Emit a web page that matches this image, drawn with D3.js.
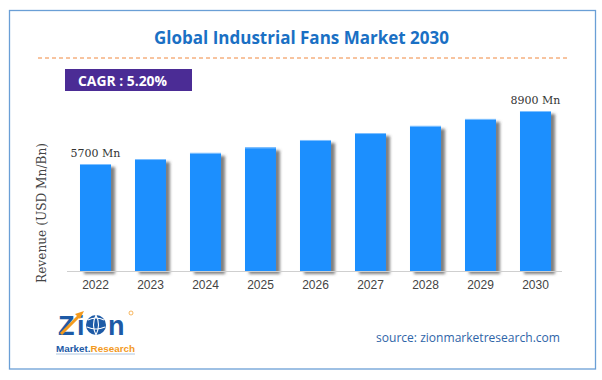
<!DOCTYPE html>
<html>
<head>
<meta charset="utf-8">
<script src="https://cdn.jsdelivr.net/npm/d3@7"></script>
<style>
html,body{margin:0;padding:0;background:#fff;}
svg{display:block;}
</style>
</head>
<body>
<svg id="chart" width="602" height="380"></svg>
<script>
const years = ["2022","2023","2024","2025","2026","2027","2028","2029","2030"];
const revenue = [5700, 6000, 6370, 6700, 7150, 7570, 8000, 8420, 8900];
const valueLabels = {"2022": "5700 Mn", "2030": "8900 Mn"};
const titleText = "Global Industrial Fans Market 2030";
const cagrText = "CAGR : 5.20%";
const yTitle = "Revenue (USD Mn/Bn)";
const sourceText = "source: zionmarketresearch.com";

const svg = d3.select("#chart");

// shadow filter
const defs = svg.append("defs");
const f = defs.append("filter").attr("id","shadow").attr("x","-20%").attr("y","-10%").attr("width","160%").attr("height","130%");
f.append("feDropShadow").attr("dx",4).attr("dy",3).attr("stdDeviation",1.6)
  .attr("flood-color","#555").attr("flood-opacity",0.75);

// frame
svg.append("rect").attr("x",9.5).attr("y",10.5).attr("width",586).attr("height",358.5)
  .attr("fill","#fff").attr("stroke","#6a9fd6").attr("stroke-width",1.3);

// title
svg.append("text").attr("x",301.5).attr("y",44).attr("text-anchor","middle")
  .attr("font-family","'Open Sans', 'Noto Sans', sans-serif").attr("font-weight","bold")
  .attr("font-size",18).attr("fill","#1a70c4")
  .attr("textLength",295).attr("lengthAdjust","spacingAndGlyphs")
  .text(titleText);

// dashed line
svg.append("line").attr("x1",38).attr("x2",570).attr("y1",58).attr("y2",58)
  .attr("stroke","#f0883e").attr("stroke-width",1).attr("stroke-dasharray","4,3");

// CAGR box
svg.append("rect").attr("x",65).attr("y",69).attr("width",127).attr("height",22).attr("fill","#4b2c95");
svg.append("text").attr("x",78).attr("y",85.5)
  .attr("font-family","'Open Sans', 'Noto Sans', sans-serif").attr("font-weight","bold")
  .attr("font-size",14).attr("fill","#fff")
  .attr("textLength",89).attr("lengthAdjust","spacingAndGlyphs")
  .text(cagrText);

// scales
const x = d3.scaleBand().domain(years).range([68,563]).paddingInner(0.436).paddingOuter(0.218);
const y = d3.scaleLinear().domain([-760, 8900]).range([271, 111]);

// bars
const g = svg.append("g");
g.selectAll("rect.bar").data(years).join("rect").attr("class","bar")
  .attr("x", d => x(d)).attr("width", x.bandwidth())
  .attr("y", (d,i) => y(revenue[i])).attr("height", (d,i) => 271 - y(revenue[i]))
  .attr("fill","#1e8ffe").attr("filter","url(#shadow)");
g.selectAll("rect.topline").data(years).join("rect").attr("class","topline")
  .attr("x", d => x(d)).attr("width", x.bandwidth())
  .attr("y", (d,i) => y(revenue[i])).attr("height", 1)
  .attr("fill","#7fc0ff");

// x axis
const xAxis = svg.append("g").attr("transform","translate(0,271)")
  .call(d3.axisBottom(x).tickSize(0).tickPadding(9));
xAxis.select(".domain").attr("stroke","#cfcfcf").attr("stroke-width",1).attr("d","M67,0.5H562");
xAxis.selectAll("text").attr("font-family","'Liberation Sans', Arial, sans-serif")
  .attr("font-size",12).attr("fill","#444");

// value labels
svg.selectAll("text.vl").data(years.filter(d => valueLabels[d])).join("text").attr("class","vl")
  .attr("x", d => x(d) + x.bandwidth()/2)
  .attr("y", d => y(revenue[years.indexOf(d)]) - 7)
  .attr("text-anchor","middle")
  .attr("font-family","'DejaVu Serif', serif").attr("font-size",11).attr("fill","#333")
  .text(d => valueLabels[d]);

// y title
svg.append("text").attr("transform","translate(46,213) rotate(-90)")
  .attr("text-anchor","middle")
  .attr("font-family","'DejaVu Serif', serif").attr("font-size",12).attr("fill","#444")
  .attr("textLength",140).attr("lengthAdjust","spacingAndGlyphs")
  .text(yTitle);

// source
svg.append("text").attr("x",376).attr("y",342)
  .attr("font-family","'Open Sans', 'Noto Sans', sans-serif").attr("font-size",13).attr("fill","#2f65a8")
  .attr("textLength",184).attr("lengthAdjust","spacingAndGlyphs")
  .text(sourceText);

// logo
const logo = svg.append("g");
const big = (t, xx) => logo.append("text").attr("x",xx).attr("y",335)
  .attr("font-family","'Liberation Sans', Arial, sans-serif").attr("font-weight","bold")
  .attr("font-size",27).attr("fill","#1d5aa6").text(t);
big("Z", 58);
big("i", 77);
logo.append("circle").attr("cx",96).attr("cy",325).attr("r",10).attr("fill","#1d5aa6");
logo.append("path").attr("d","M88,320 Q96,316 104,320 M87,327 Q96,331 105,327 M96,315 Q91,325 96,335 M96,315 Q101,325 96,335")
  .attr("fill","none").attr("stroke","#fff").attr("stroke-width",1.1);
big("n", 108);
logo.append("path").attr("d","M61,334 L80,315").attr("stroke","#f39a1e").attr("stroke-width",3);
logo.append("path").attr("d","M84,311 L75,314 L80,319 Z").attr("fill","#f39a1e");
logo.append("circle").attr("cx",131).attr("cy",313).attr("r",2).attr("fill","none").attr("stroke","#f39a1e").attr("stroke-width",0.7);
const mr = logo.append("text").attr("x",56).attr("y",352)
  .attr("font-family","'Liberation Sans', Arial, sans-serif").attr("font-weight","bold")
  .attr("font-size",9.5).attr("textLength",79).attr("lengthAdjust","spacingAndGlyphs");
mr.append("tspan").attr("fill","#1d5aa6").text("Market.");
mr.append("tspan").attr("fill","#f39a1e").text("Research");
logo.append("line").attr("x1",56).attr("x2",135).attr("y1",354).attr("y2",354).attr("stroke","#9bb7d8").attr("stroke-width",0.8);
</script>
</body>
</html>
